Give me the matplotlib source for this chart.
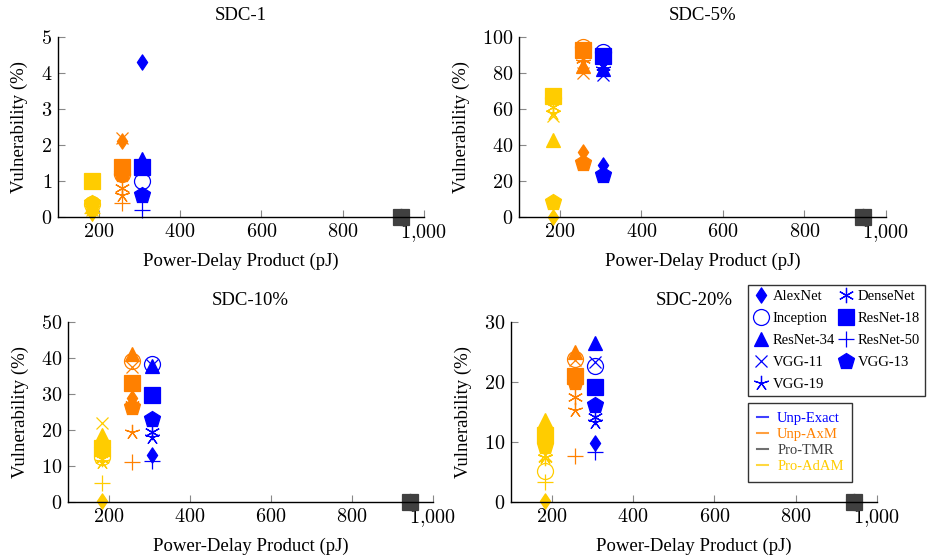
import matplotlib.pyplot as plt
from matplotlib.path import Path
from matplotlib.lines import Line2D

plt.rcParams["font.family"] = ["Liberation Serif", "DejaVu Serif"]
plt.rcParams["mathtext.fontset"] = "cm"

# --------- data ---------
networks = ["AlexNet", "DenseNet", "Inception", "ResNet-18", "ResNet-34",
            "ResNet-50", "VGG-11", "VGG-13", "VGG-19"]
configs = ["Unp-Exact", "Unp-AxM", "Pro-TMR", "Pro-AdAM"]
pdp = [306, 257, 944, 184]   # pJ per config

# vulnerability (%) per network, same order as `networks`
sdc1_exact = [4.3, 1.5, 1.0, 1.4, 1.6, 0.2, 1.3, 0.6, 1.4]
sdc1_axm   = [2.1, 0.8, 1.2, 1.4, 1.35, 0.4, 2.2, 1.2, 0.6]
sdc1_tmr   = [0, 0, 0, 0, 0, 0, 0, 0, 0]
sdc1_adam  = [0.1, 0.3, 0.35, 1.0, 0.3, 0.1, 0.2, 0.4, 0.25]

sdc5_exact = [29, 84, 91.5, 89.5, 82, 86, 79, 23.5, 82]
sdc5_axm   = [36, 88, 94.5, 93, 84, 90, 80, 30, 86]
sdc5_tmr   = [0, 0, 0, 0, 0, 0, 0, 0, 0]
sdc5_adam  = [0, 61, 66, 67, 43, 64, 56, 8.5, 58]

sdc10_exact = [13, 19.5, 38.2, 29.7, 37.7, 11.3, 38, 23, 18]
sdc10_axm   = [29, 27, 39.3, 33, 41, 11, 37.5, 26.5, 19.5]
sdc10_tmr   = [0, 0, 0, 0, 0, 0, 0, 0, 0]
sdc10_adam  = [0.3, 12, 12.5, 15, 18.5, 5.4, 22, 14.5, 11]

sdc20_exact = [9.8, 14.2, 22.7, 19.1, 26.5, 8.4, 23.3, 16.2, 13.4]
sdc20_axm   = [20.5, 17.5, 23.8, 21, 25, 7.7, 23.6, 20, 15.3]
sdc20_tmr   = [0, 0, 0, 0, 0, 0, 0, 0, 0]
sdc20_adam  = [0.2, 7.3, 5.1, 11.2, 13.6, 3.3, 7.8, 9.3, 7.5]

titles = ["SDC-1", "SDC-5%", "SDC-10%", "SDC-20%"]
yticks = [[0, 1, 2, 3, 4, 5], [0, 20, 40, 60, 80, 100],
          [0, 10, 20, 30, 40, 50], [0, 10, 20, 30]]
xticks = [200, 400, 600, 800, 1000]
xticklabels = ["$200$", "$400$", "$600$", "$800$", "$1{,}000$"]

panels = [
    [sdc1_exact, sdc1_axm, sdc1_tmr, sdc1_adam],
    [sdc5_exact, sdc5_axm, sdc5_tmr, sdc5_adam],
    [sdc10_exact, sdc10_axm, sdc10_tmr, sdc10_adam],
    [sdc20_exact, sdc20_axm, sdc20_tmr, sdc20_adam],
]

# --------- styles ---------
colors = ["#0000FF", "#FF8000", "#404040", "#FFCC00"]
diamond = Path([(0, 1), (0.67, 0), (0, -1), (-0.67, 0), (0, 1)],
               [Path.MOVETO, Path.LINETO, Path.LINETO, Path.LINETO, Path.CLOSEPOLY])
# (marker, size, filled)
mstyle = [
    (diamond, 11, True),
    ((6, 2, 0), 11, False),
    ("o", 11.5, None),
    ("s", 11.5, True),
    ("^", 10, True),
    ("+", 11, False),
    ("x", 9, False),
    ("p", 12, True),
    ((5, 2, 0), 11, False),
]

def mkw(j, c):
    m, s, filled = mstyle[j]
    kw = dict(marker=m, ms=s, color=c, ls="none", mew=0.9)
    if filled is None:
        kw["mfc"] = "none"
    return kw

# axes boxes in pixels (left, top, right, bottom) for a 927x558 figure
W, H = 927, 558
boxes = [(58, 37, 424, 217), (519, 37, 886, 217),
         (68, 322, 433, 502), (511, 322, 877, 502)]

fig = plt.figure(figsize=(W / 100, H / 100), dpi=100)

for k, (l, t, r, b) in enumerate(boxes):
    ax = fig.add_axes([l / W, 1 - b / H, (r - l) / W, (b - t) / H])
    for ci, series in enumerate(panels[k]):
        for j, v in enumerate(series):
            ax.plot(pdp[ci], v, clip_on=False, **mkw(j, colors[ci]))
    ax.set_xlim(100, 1000)
    ax.set_ylim(0, yticks[k][-1])
    ax.set_xticks(xticks)
    ax.set_xticklabels(xticklabels)
    ax.set_yticks(yticks[k])
    ax.set_yticklabels(["$%d$" % v for v in yticks[k]])
    for s in ("top", "right"):
        ax.spines[s].set_visible(False)
    for s in ("left", "bottom"):
        ax.spines[s].set_linewidth(1.0)
    ax.tick_params(direction="in", length=5, width=0.8, color="#888888",
                   labelsize=14.5, pad=4)
    ax.set_title(titles[k], fontsize=13.5, pad=12.5)
    ax.set_xlabel("Power-Delay Product (pJ)", fontsize=13.5, labelpad=6)
    ax.set_ylabel("Vulnerability (%)", fontsize=13.5, labelpad=9)

# network legend (markers, two columns, row-wise like pgfplots)
order = [0, 2, 4, 6, 8, 1, 3, 5, 7]
h1 = [Line2D([], [], **mkw(j, "#0000FF")) for j in order]
leg1 = fig.legend(h1, [networks[j] for j in order], ncol=2,
                  loc="upper left", bbox_to_anchor=(748 / W, 1 - 285 / H),
                  fontsize=10.5, frameon=True, fancybox=False, edgecolor="black",
                  borderaxespad=0, borderpad=0.35, labelspacing=0.6,
                  handletextpad=0.25, columnspacing=0.2, handlelength=1.1)
leg1.get_frame().set_linewidth(1.0)

# configuration legend (colored short lines)
h2 = [Line2D([], [], color=c, lw=1.5, alpha=0.75) for c in colors]
leg2 = fig.legend(h2, configs, loc="upper left",
                  bbox_to_anchor=(748 / W, 1 - 403 / H),
                  fontsize=10.5, frameon=True, fancybox=False, edgecolor="black",
                  borderaxespad=0, borderpad=0.6, labelspacing=0.2,
                  handletextpad=0.6, handlelength=0.8)
leg2.get_frame().set_linewidth(1.0)
for txt, c in zip(leg2.get_texts(), colors):
    txt.set_color(c)

fig.savefig("out.png", dpi=100)
